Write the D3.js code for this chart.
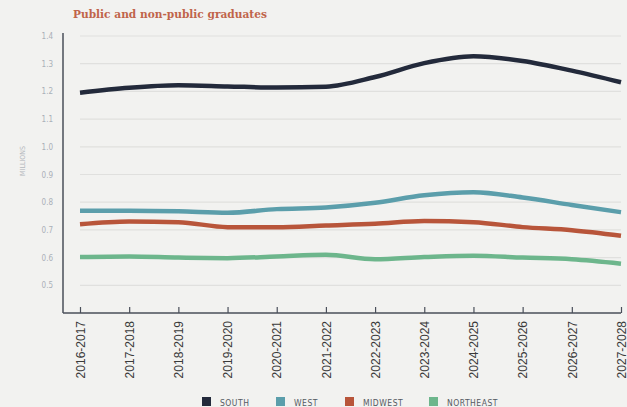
<!DOCTYPE html>
<html>
<head>
<meta charset="utf-8">
<script src="https://cdn.jsdelivr.net/npm/d3@7"></script>
<style>
  body { margin: 0; background: #f2f2f0; }
  svg { display: block; }
</style>
</head>
<body>
<svg id="chart"></svg>
<script>
const width = 627;
const height = 407;

const years = [
  "2016-2017", "2017-2018", "2018-2019", "2019-2020", "2020-2021", "2021-2022",
  "2022-2023", "2023-2024", "2024-2025", "2025-2026", "2026-2027", "2027-2028"
];
const south = [1.195, 1.213, 1.222, 1.218, 1.214, 1.217, 1.252, 1.302, 1.327, 1.310, 1.275, 1.233];
const west = [0.769, 0.769, 0.767, 0.762, 0.775, 0.781, 0.798, 0.825, 0.836, 0.817, 0.790, 0.764];
const midwest = [0.720, 0.730, 0.728, 0.710, 0.710, 0.716, 0.722, 0.732, 0.728, 0.710, 0.699, 0.679];
const northeast = [0.602, 0.604, 0.600, 0.598, 0.604, 0.610, 0.594, 0.602, 0.607, 0.600, 0.594, 0.578];
const yTicks = [0.5, 0.6, 0.7, 0.8, 0.9, 1.0, 1.1, 1.2, 1.3, 1.4];

const series = [
  { name: "SOUTH", values: south, color: "#232a3b" },
  { name: "WEST", values: west, color: "#5b9eab" },
  { name: "MIDWEST", values: midwest, color: "#b8553a" },
  { name: "NORTHEAST", values: northeast, color: "#6db68c" }
];

const svg = d3.select("#chart").attr("width", width).attr("height", height);

const x = d3.scalePoint().domain(years).range([80, 621]);
const y = d3.scaleLinear().domain([0.4, 1.4]).range([313, 36]);

// title
svg.append("text")
  .attr("x", 73)
  .attr("y", 18)
  .attr("fill", "#c0644a")
  .attr("font-family", "DejaVu Serif")
  .attr("font-weight", "bold")
  .attr("font-size", 10.6)
  .text("Public and non-public graduates");

// gridlines
svg.append("g")
  .selectAll("line")
  .data(yTicks)
  .enter()
  .append("line")
  .attr("x1", 80)
  .attr("x2", 621)
  .attr("y1", (d) => y(d))
  .attr("y2", (d) => y(d))
  .attr("stroke", "#e0e0de")
  .attr("stroke-width", 1.2);

// y axis
const yAxis = svg.append("g")
  .attr("transform", "translate(63,0)")
  .call(d3.axisLeft(y).tickValues(yTicks).tickSize(0).tickPadding(10).tickFormat(d3.format(".1f")));
yAxis.select(".domain").remove();
yAxis.selectAll("text")
  .attr("fill", "#aab0b8")
  .attr("font-family", "DejaVu Sans Condensed, DejaVu Sans")
  .attr("font-stretch", "condensed")
  .attr("font-size", 8);

svg.append("line")
  .attr("x1", 63).attr("x2", 63)
  .attr("y1", 33).attr("y2", 313)
  .attr("stroke", "#4a4f5a")
  .attr("stroke-width", 1.5);

svg.append("text")
  .attr("transform", "translate(25,161) rotate(-90)")
  .attr("text-anchor", "middle")
  .attr("fill", "#b5b9be")
  .attr("font-family", "DejaVu Sans Condensed, DejaVu Sans")
  .attr("font-stretch", "condensed")
  .attr("font-size", 7)
  .text("MILLIONS");

// x axis
const xAxis = svg.append("g")
  .attr("transform", "translate(0,313)")
  .call(d3.axisBottom(x).tickSize(-6).tickPadding(8));
xAxis.select(".domain").remove();
xAxis.selectAll(".tick line").attr("stroke", "#4a4f5a").attr("stroke-width", 1.2);
xAxis.selectAll("text")
  .attr("transform", "rotate(-90)")
  .attr("text-anchor", "end")
  .attr("x", -8)
  .attr("y", 0)
  .attr("dy", "0.35em")
  .attr("fill", "#3a3a3a")
  .attr("font-family", "Liberation Sans, Arial")
  .attr("font-size", 12);

svg.append("line")
  .attr("x1", 63).attr("x2", 621)
  .attr("y1", 313).attr("y2", 313)
  .attr("stroke", "#4a4f5a")
  .attr("stroke-width", 1.5);

// lines
const line = d3.line()
  .x((d, i) => x(years[i]))
  .y((d) => y(d))
  .curve(d3.curveMonotoneX);

svg.append("g")
  .selectAll("path")
  .data(series)
  .enter()
  .append("path")
  .attr("d", (d) => line(d.values))
  .attr("fill", "none")
  .attr("stroke", (d) => d.color)
  .attr("stroke-width", 4.5);

// legend
const legendX = [202, 276, 345, 429];
const legend = svg.append("g")
  .selectAll("g")
  .data(series)
  .enter()
  .append("g")
  .attr("transform", (d, i) => `translate(${legendX[i]},397)`);
legend.append("rect")
  .attr("width", 9)
  .attr("height", 9)
  .attr("fill", (d) => d.color);
legend.append("text")
  .attr("x", 18)
  .attr("y", 8.5)
  .attr("fill", "#555a62")
  .attr("font-family", "DejaVu Sans Condensed, DejaVu Sans")
  .attr("font-stretch", "condensed")
  .attr("font-size", 8.5)
  .attr("letter-spacing", 0.5)
  .text((d) => d.name);
</script>
</body>
</html>
